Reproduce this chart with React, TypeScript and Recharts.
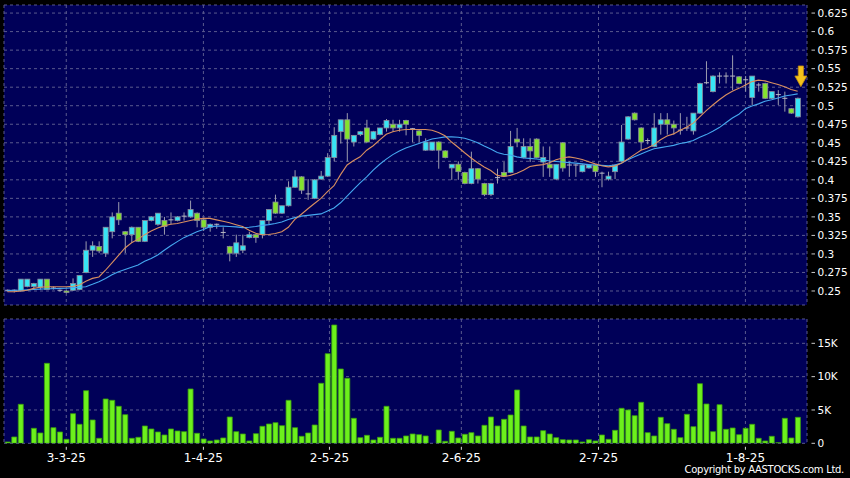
import React from 'react';
import { ComposedChart, Bar, Line, XAxis, YAxis, CartesianGrid, ReferenceDot } from 'recharts';

// daily OHLC, 18-2-25 .. 13-8-25 (trading days)
const opens = [
  0.250, 0.251, 0.250, 0.256, 0.256, 0.255, 0.266, 0.254, 0.251, 0.250,
  0.251, 0.252, 0.275, 0.305, 0.310, 0.301, 0.330, 0.355, 0.330, 0.326,
  0.336, 0.317, 0.345, 0.340, 0.345, 0.345, 0.345, 0.350, 0.350, 0.355,
  0.346, 0.336, 0.339, 0.329, 0.310, 0.301, 0.305, 0.322, 0.326, 0.326,
  0.345, 0.370, 0.355, 0.365, 0.390, 0.404, 0.381, 0.375, 0.401, 0.405,
  0.430, 0.465, 0.481, 0.451, 0.461, 0.470, 0.455, 0.461, 0.470, 0.475,
  0.470, 0.480, 0.469, 0.466, 0.440, 0.440, 0.451, 0.439, 0.416, 0.421,
  0.410, 0.395, 0.415, 0.395, 0.380, 0.403, 0.410, 0.410, 0.455, 0.430,
  0.445, 0.455, 0.424, 0.421, 0.401, 0.450, 0.420, 0.420, 0.411, 0.416,
  0.420, 0.409, 0.401, 0.411, 0.425, 0.455, 0.490, 0.470, 0.452, 0.445,
  0.475, 0.481, 0.475, 0.466, 0.469, 0.466, 0.490, 0.530, 0.519, 0.540,
  0.540, 0.540, 0.539, 0.535, 0.511, 0.528, 0.530, 0.510, 0.515, 0.510,
  0.496, 0.485,
];
const highs = [
  0.252, 0.252, 0.266, 0.266, 0.261, 0.266, 0.266, 0.256, 0.252, 0.251,
  0.267, 0.271, 0.317, 0.317, 0.317, 0.336, 0.356, 0.370, 0.331, 0.337,
  0.336, 0.345, 0.351, 0.355, 0.350, 0.356, 0.351, 0.356, 0.372, 0.356,
  0.347, 0.341, 0.341, 0.336, 0.311, 0.326, 0.326, 0.330, 0.327, 0.345,
  0.360, 0.380, 0.365, 0.398, 0.413, 0.405, 0.401, 0.401, 0.412, 0.436,
  0.471, 0.481, 0.490, 0.460, 0.466, 0.481, 0.466, 0.470, 0.482, 0.481,
  0.481, 0.481, 0.470, 0.467, 0.456, 0.451, 0.452, 0.440, 0.421, 0.425,
  0.411, 0.438, 0.416, 0.396, 0.396, 0.415, 0.424, 0.466, 0.470, 0.456,
  0.456, 0.456, 0.445, 0.445, 0.421, 0.451, 0.425, 0.421, 0.421, 0.421,
  0.421, 0.411, 0.411, 0.421, 0.474, 0.486, 0.491, 0.471, 0.456, 0.490,
  0.490, 0.490, 0.480, 0.490, 0.485, 0.490, 0.531, 0.560, 0.541, 0.545,
  0.545, 0.568, 0.540, 0.540, 0.540, 0.531, 0.531, 0.519, 0.521, 0.519,
  0.497, 0.511,
];
const lows = [
  0.249, 0.248, 0.249, 0.255, 0.254, 0.252, 0.252, 0.252, 0.249, 0.247,
  0.250, 0.251, 0.274, 0.296, 0.301, 0.296, 0.321, 0.339, 0.301, 0.315,
  0.316, 0.316, 0.344, 0.338, 0.326, 0.340, 0.344, 0.345, 0.349, 0.336,
  0.331, 0.330, 0.334, 0.321, 0.290, 0.296, 0.301, 0.321, 0.315, 0.321,
  0.340, 0.354, 0.354, 0.364, 0.389, 0.381, 0.373, 0.374, 0.400, 0.404,
  0.425, 0.449, 0.425, 0.445, 0.459, 0.450, 0.454, 0.460, 0.465, 0.465,
  0.465, 0.460, 0.451, 0.451, 0.439, 0.439, 0.415, 0.429, 0.400, 0.400,
  0.394, 0.394, 0.395, 0.378, 0.378, 0.395, 0.404, 0.409, 0.444, 0.429,
  0.424, 0.429, 0.404, 0.404, 0.400, 0.411, 0.404, 0.404, 0.410, 0.415,
  0.404, 0.390, 0.399, 0.401, 0.424, 0.454, 0.480, 0.440, 0.448, 0.444,
  0.461, 0.461, 0.461, 0.461, 0.466, 0.461, 0.489, 0.529, 0.518, 0.530,
  0.530, 0.521, 0.529, 0.519, 0.501, 0.519, 0.509, 0.509, 0.501, 0.492,
  0.489, 0.484,
];
const closes = [
  0.251, 0.250, 0.266, 0.266, 0.260, 0.266, 0.252, 0.254, 0.251, 0.248,
  0.260, 0.271, 0.305, 0.311, 0.304, 0.336, 0.350, 0.346, 0.326, 0.336,
  0.317, 0.345, 0.350, 0.355, 0.337, 0.346, 0.350, 0.351, 0.360, 0.345,
  0.336, 0.340, 0.340, 0.329, 0.301, 0.315, 0.311, 0.326, 0.322, 0.345,
  0.360, 0.355, 0.365, 0.390, 0.404, 0.386, 0.381, 0.400, 0.405, 0.430,
  0.460, 0.481, 0.455, 0.460, 0.465, 0.451, 0.465, 0.470, 0.480, 0.470,
  0.475, 0.475, 0.469, 0.460, 0.451, 0.451, 0.440, 0.430, 0.421, 0.411,
  0.395, 0.415, 0.401, 0.380, 0.395, 0.403, 0.405, 0.445, 0.451, 0.445,
  0.439, 0.430, 0.430, 0.416, 0.421, 0.416, 0.420, 0.420, 0.420, 0.420,
  0.411, 0.409, 0.405, 0.420, 0.451, 0.485, 0.481, 0.451, 0.453, 0.470,
  0.481, 0.475, 0.470, 0.467, 0.470, 0.490, 0.530, 0.531, 0.540, 0.540,
  0.540, 0.540, 0.530, 0.535, 0.540, 0.528, 0.510, 0.519, 0.515, 0.510,
  0.490, 0.510,
];
const volumes = [
  200, 950, 5850, 0, 2250, 1550, 12000, 2350, 1700, 600,
  4450, 2850, 7900, 3500, 750, 6650, 6450, 5550, 4300, 750,
  900, 2600, 2150, 1700, 1250, 2150, 1850, 1750, 8150, 1500,
  650, 350, 500, 800, 3950, 1750, 1400, 350, 1450, 2550,
  2900, 3100, 2650, 6450, 2350, 1050, 1550, 2750, 9000, 13450,
  17750, 11150, 9750, 3750, 850, 1200, 500, 900, 5550, 750,
  750, 1100, 1400, 1300, 1100, 0, 2000, 300, 1800, 800,
  1350, 1600, 1100, 2700, 3950, 2600, 3600, 4250, 8000, 2600,
  950, 950, 1900, 1400, 850, 550, 500, 500, 200, 550,
  350, 1250, 600, 1950, 5250, 5000, 4150, 6150, 1600, 1100,
  3900, 2950, 2100, 850, 4350, 2500, 8950, 5900, 1750, 5800,
  2100, 2300, 1300, 2250, 2850, 750, 350, 1050, 100, 3750,
  800, 3900,
];
// 10-day (orange) and 20-day (blue) averages as drawn
const ma10 = [
  0.249, 0.249, 0.250, 0.251, 0.2535, 0.255, 0.2558, 0.2558, 0.2558, 0.2558,
  0.2565, 0.258, 0.263, 0.267, 0.269, 0.278, 0.288, 0.298, 0.308, 0.315,
  0.320, 0.326, 0.331, 0.335, 0.338, 0.340, 0.341, 0.343, 0.345, 0.347,
  0.348, 0.348, 0.346, 0.344, 0.342, 0.3395, 0.337, 0.332, 0.328, 0.3258,
  0.3262, 0.3275, 0.330, 0.336, 0.3467, 0.3535, 0.361, 0.368, 0.375, 0.384,
  0.392, 0.407, 0.420, 0.426, 0.431, 0.440, 0.446, 0.454, 0.4615, 0.465,
  0.467, 0.468, 0.468, 0.468, 0.468, 0.467, 0.464, 0.4595, 0.451, 0.444,
  0.4365, 0.4295, 0.423, 0.4172, 0.4125, 0.406, 0.4045, 0.406, 0.409, 0.413,
  0.418, 0.4195, 0.4205, 0.423, 0.427, 0.4295, 0.431, 0.4295, 0.4275, 0.4245,
  0.4215, 0.419, 0.4175, 0.4185, 0.4225, 0.428, 0.434, 0.440, 0.443, 0.4475,
  0.454, 0.459, 0.462, 0.467, 0.471, 0.4765, 0.485, 0.4935, 0.501, 0.508,
  0.5145, 0.5195, 0.5234, 0.528, 0.5325, 0.5345, 0.5335, 0.531, 0.5285, 0.5255,
  0.522, 0.5195,
];
const ma20 = [
  0.2505, 0.251, 0.251, 0.2515, 0.252, 0.2525, 0.253, 0.253, 0.2535, 0.2536,
  0.2545, 0.255, 0.2558, 0.259, 0.2626, 0.267, 0.272, 0.2761, 0.279, 0.282,
  0.2851, 0.290, 0.294, 0.2986, 0.305, 0.311, 0.3166, 0.322, 0.326, 0.330,
  0.333, 0.3368, 0.3375, 0.3375, 0.337, 0.3365, 0.3355, 0.336, 0.337, 0.3385,
  0.3395, 0.341, 0.343, 0.3465, 0.349, 0.351, 0.352, 0.353, 0.354, 0.358,
  0.362, 0.369, 0.378, 0.387, 0.396, 0.404, 0.413, 0.421, 0.428, 0.434,
  0.439, 0.443, 0.446, 0.449, 0.452, 0.455, 0.4565, 0.458, 0.458, 0.4575,
  0.456, 0.4535, 0.450, 0.4455, 0.4415, 0.437, 0.4345, 0.4335, 0.431, 0.4295,
  0.429, 0.428, 0.427, 0.4255, 0.4248, 0.424, 0.4232, 0.4225, 0.4215, 0.4205,
  0.420, 0.4195, 0.419, 0.420, 0.4225, 0.427, 0.431, 0.435, 0.4385, 0.442,
  0.4435, 0.445, 0.4465, 0.449, 0.4505, 0.453, 0.4575, 0.461, 0.4655, 0.4705,
  0.477, 0.4835, 0.4885, 0.496, 0.4995, 0.5025, 0.506, 0.508, 0.5105, 0.513,
  0.5145, 0.516,
];

const dateTickPos = [9, 30, 49.3, 69.5, 90.5, 113];
const dateTickLabels = ['3-3-25', '1-4-25', '2-5-25', '2-6-25', '2-7-25', '1-8-25'];
const priceTicks = [0.25, 0.275, 0.3, 0.325, 0.35, 0.375, 0.4, 0.425, 0.45, 0.475, 0.5, 0.525, 0.55, 0.575, 0.6, 0.625];
const volumeTicks = [0, 5000, 10000, 15000];
const volumeTickLabels = ['0', '5K', '10K', '15K'];
const arrowAt = { i: 121, price: 0.5257 };

const rows = opens.map((open, i) => ({
  i,
  open,
  high: highs[i],
  low: lows[i],
  close: closes[i],
  hl: [lows[i], highs[i]],
  vol: volumes[i],
  ma10: ma10[i],
  ma20: ma20[i],
}));

const X_DOMAIN = [-0.536, 122.43];
const NAVY = '#000058';
const GRID = '#5a5a8e';
const FONT = '"DejaVu Sans", Verdana, sans-serif';

const Candle = (props: any) => {
  const { x, y, width, height, payload } = props;
  const { open, close, high, low } = payload;
  const top = Math.min(y, y + height);
  const bottom = Math.max(y, y + height);
  const toY = (v: number) => top + ((high - v) / (high - low)) * (bottom - top);
  const cx = x + width / 2;
  const bTop = toY(Math.max(open, close));
  const bBot = toY(Math.min(open, close));
  const up = close >= open;
  return (
    <g>
      <line x1={cx} x2={cx} y1={top} y2={bottom} stroke="#9c9cae" strokeWidth={1} />
      {bBot - bTop < 1.2 ? (
        <line x1={x} x2={x + width} y1={bTop} y2={bTop} stroke="#b8b8c4" strokeWidth={1} />
      ) : (
        <rect x={x} y={bTop} width={width} height={bBot - bTop} fill={up ? '#38e4f4' : '#84e22e'} stroke="#8a8a9c" strokeWidth={0.8} />
      )}
    </g>
  );
};

const Arrow = (props: any) => {
  const { cx, cy } = props;
  const ax = cx + 3.2;
  const d = `M${ax - 2.6},${cy - 20.7} h5.2 v10 h3.4 l-6,10.7 l-6,-10.7 h3.4 z`;
  return <path d={d} fill="#f4c21c" stroke="#c08a10" strokeWidth={0.8} />;
};

const rightTick = (labels?: string[], ticks?: number[]) => (props: any) => {
  const { x, y, payload } = props;
  const text = labels && ticks ? labels[ticks.indexOf(payload.value)] : String(payload.value);
  return (
    <g>
      <line x1={x + 4.5} x2={x + 8} y1={y} y2={y} stroke="#c8c8c8" />
      <text x={x + 10.5} y={y} dy={3.8} fill="#ffffff" fontSize={10.5} fontFamily={FONT}>
        {text}
      </text>
    </g>
  );
};

const DateTick = (props: any) => {
  const { x, y, payload } = props;
  const label = dateTickLabels[dateTickPos.indexOf(payload.value)];
  return (
    <g>
      <line x1={x} x2={x} y1={y + 3.5} y2={y + 6.5} stroke="#d8d8d8" />
      <text x={x} y={y + 18.9} textAnchor="middle" fill="#ffffff" fontSize={12} fontFamily={FONT}>
        {label}
      </text>
    </g>
  );
};

export default function App() {
  return (
    <div style={{ position: 'absolute', left: 0, top: 0, width: 850, height: 478, background: '#000', overflow: 'hidden' }}>
      <div style={{ position: 'absolute', left: 0, top: 0 }}>
        <ComposedChart width={850} height={310} data={rows} margin={{ top: 5, right: 0, bottom: 5, left: 4 }}>
          <CartesianGrid stroke={GRID} strokeDasharray="3 3" fill={NAVY} fillOpacity={1} />
          <XAxis type="number" dataKey="i" domain={X_DOMAIN} ticks={dateTickPos} allowDataOverflow hide />
          <YAxis
            orientation="right"
            type="number"
            width={43}
            domain={[0.2311, 0.6359]}
            ticks={priceTicks}
            allowDataOverflow
            axisLine={false}
            tickLine={false}
            tickSize={0}
            tickMargin={0}
            interval={0}
            tick={rightTick()}
          />
          <Bar dataKey="hl" barSize={5} shape={<Candle />} isAnimationActive={false} />
          <Line type="linear" dataKey="ma20" stroke="#45a8f0" strokeWidth={1.1} dot={false} isAnimationActive={false} />
          <Line type="linear" dataKey="ma10" stroke="#d98f60" strokeWidth={1.1} dot={false} isAnimationActive={false} />
          <ReferenceDot x={arrowAt.i} y={arrowAt.price} shape={<Arrow />} ifOverflow="visible" />
        </ComposedChart>
      </div>
      <div style={{ position: 'absolute', left: 0, top: 310 }}>
        <ComposedChart width={850} height={168} data={rows} margin={{ top: 9, right: 0, bottom: 0, left: 4 }}>
          <CartesianGrid stroke={GRID} strokeDasharray="3 3" fill={NAVY} fillOpacity={1} />
          <XAxis
            type="number"
            dataKey="i"
            domain={X_DOMAIN}
            ticks={dateTickPos}
            allowDataOverflow
            height={34.7}
            axisLine={false}
            tickLine={false}
            tickSize={0}
            tickMargin={0}
            interval={0}
            tick={<DateTick />}
          />
          <YAxis
            orientation="right"
            type="number"
            width={43}
            domain={[0, 18650]}
            ticks={volumeTicks}
            allowDataOverflow
            axisLine={false}
            tickLine={false}
            tickSize={0}
            tickMargin={0}
            interval={0}
            tick={rightTick(volumeTickLabels, volumeTicks)}
          />
          <Bar dataKey="vol" barSize={5} fill="#6cf01c" stroke="#3a9a10" strokeWidth={0.8} isAnimationActive={false} />
        </ComposedChart>
      </div>
      <div
        style={{
          position: 'absolute',
          right: 6,
          top: 463,
          height: 14,
          lineHeight: '14px',
          color: '#ffffff',
          fontFamily: FONT,
          fontSize: 10,
          letterSpacing: -0.3,
          whiteSpace: 'nowrap',
        }}
      >
        Copyright by AASTOCKS.com Ltd.
      </div>
    </div>
  );
}
